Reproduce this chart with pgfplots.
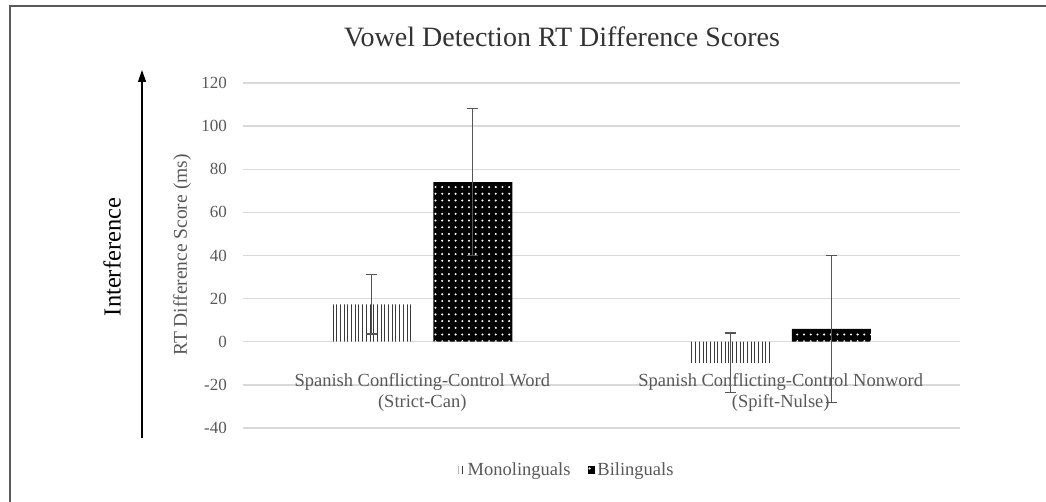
\documentclass[border=0pt]{standalone}
\usepackage{pgfplots}
\pgfplotsset{compat=1.18}
\usepackage{fontspec}
\setmainfont{Liberation Serif}
\usetikzlibrary{patterns.meta,arrows.meta}
\definecolor{tickgray}{HTML}{595959}
\definecolor{gridgray}{HTML}{D9D9D9}
\definecolor{errgray}{HTML}{555555}
\definecolor{framegray}{HTML}{5A5A5A}
\definecolor{linegray}{HTML}{3A3A3A}

\begin{document}
\begin{tikzpicture}[x=1pt,y=1pt]
\useasboundingbox (0,0) rectangle (1046,502);
\fill[white] (0,0) rectangle (1046,502);
\draw[framegray, line width=1.5pt] (10,0) -- (10,496) -- (1046,496);
\begin{axis}[
  at={(243pt,74pt)}, anchor=south west,
  scale only axis, width=717pt, height=345pt,
  xmin=-0.5, xmax=1.5, ymin=-40, ymax=120,
  ytick={-40,-20,...,120},
  xtick=\empty,
  ymajorgrids, grid style={gridgray, line width=1.3pt},
  axis line style={draw=none},
  major tick length=0pt,
  yticklabel style={font=\fontsize{17}{20}\selectfont, text=tickgray, inner sep=0pt, xshift=-16pt, anchor=east},
  /pgf/number format/assume math mode=true,
  ybar=22pt, bar width=79pt,
  clip=false,
  error bars/y dir=both, error bars/y explicit,
  error bars/error bar style={errgray, line width=1.2pt},
  error bars/error mark options={rotate=90, errgray, mark size=5.5pt, line width=1.2pt},
  legend style={draw=none, fill=none, at={(0.452,-0.122)}, anchor=center,
    font=\fontsize{18.5}{22}\selectfont, text=tickgray,
    /tikz/every odd column/.append style={column sep=0pt},
    /tikz/every even column/.append style={column sep=16pt}},
  legend columns=2,
  legend image code/.code={\path[#1] (0pt,-4pt) rectangle (7pt,4pt);},
]
\addplot[draw=none, fill=white, postaction={pattern={Lines[angle=90, distance=3.7pt, line width=0.9pt]}, pattern color=linegray}]
  coordinates {(0,17.3) +- (0,13.7) (1,-9.8) +- (0,13.9)};
\addlegendentry{Monolinguals}
\addplot[draw=none, fill=black, postaction={pattern={Dots[distance=6.7pt, radius=1.15pt]}, pattern color=white}]
  coordinates {(0,74) +- (0,34) (1,6) +- (0,34)};
\addlegendentry{Bilinguals}
\node[font=\fontsize{18.5}{22}\selectfont, text=tickgray, anchor=base] at (axis cs:0,-20.9) {Spanish Conflicting-Control Word};
\node[font=\fontsize{18.5}{22}\selectfont, text=tickgray, anchor=base] at (axis cs:0,-30.7) {(Strict-Can)};
\node[font=\fontsize{18.5}{22}\selectfont, text=tickgray, anchor=base] at (axis cs:1,-20.9) {Spanish Conflicting-Control Nonword};
\node[font=\fontsize{18.5}{22}\selectfont, text=tickgray, anchor=base] at (axis cs:1,-30.7) {(Spift-Nulse)};
\end{axis}
\node[font=\fontsize{28}{32}\selectfont, text=black!80, anchor=base] at (562,455) {Vowel Detection RT Difference Scores};
\node[font=\fontsize{19.5}{22}\selectfont, text=tickgray, rotate=90] at (182,247) {RT Difference Score (ms)};
\node[font=\fontsize{24.5}{28}\selectfont, text=black, rotate=90] at (112,245) {Interference};
\draw[-{Triangle[length=12pt,width=8pt]}, line width=1.3pt] (142,64) -- (142,432);
\end{tikzpicture}
\end{document}
